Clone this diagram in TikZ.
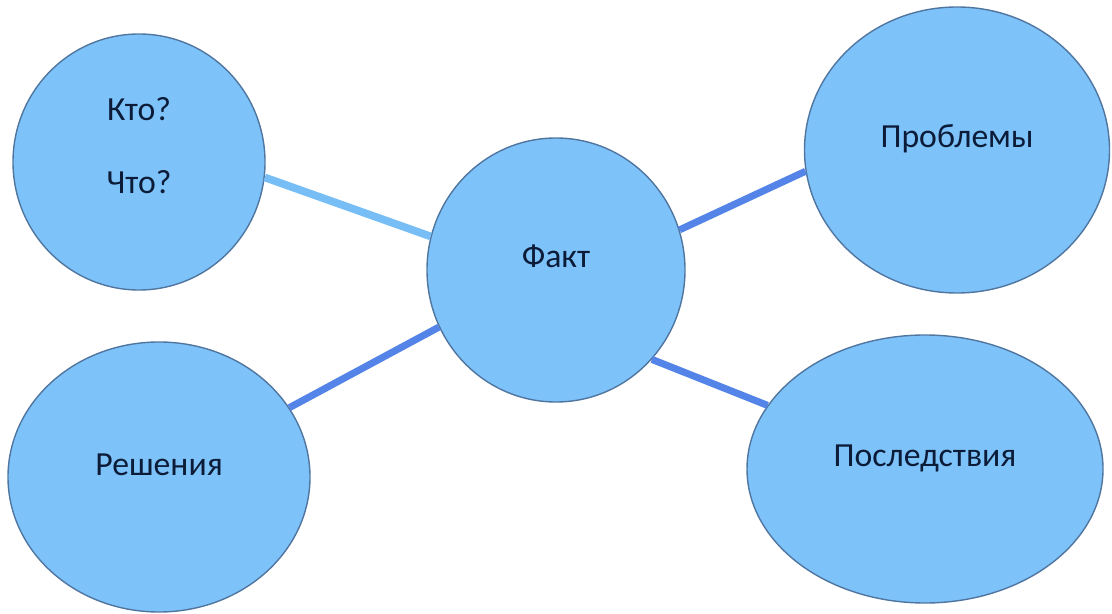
\documentclass[tikz,border=0pt]{standalone}
\usepackage{fontspec}
\setmainfont{Carlito}
\usepackage{tikz}
\usetikzlibrary{shapes.geometric}
\definecolor{mapfill}{RGB}{125,195,250}
\definecolor{mapedge}{RGB}{80,118,160}
\definecolor{maplight}{RGB}{118,190,245}
\definecolor{mapdark}{RGB}{85,132,232}
\definecolor{maptext}{RGB}{12,28,56}

\begin{document}
\begin{tikzpicture}[
  bubble/.style={ellipse,draw=mapedge,line width=1pt,fill=mapfill,inner sep=0pt,
    text=maptext,font=\fontsize{24}{29}\selectfont,text height=0.5cm,text depth=0.6cm},
  link/.style={draw=mapdark,line width=5pt},
  linklight/.style={draw=maplight,line width=5.5pt}
]
\useasboundingbox (0,0) rectangle (27.8,15.325);

% bubbles
\node[bubble,minimum width=6.45cm,minimum height=6.6cm] (fakt) at (13.9,8.575) {Факт};
\node[bubble,minimum width=6.3cm,minimum height=6.4cm,align=center,
  font=\fontsize{24}{52}\selectfont,text height=2.1cm,text depth=0.5cm] (kto) at (3.475,11.275) {Кто?\\Что?};
\node[bubble,minimum width=7.625cm,minimum height=7.15cm] (probl) at (23.925,11.575) {Проблемы};
\node[bubble,minimum width=7.55cm,minimum height=6.75cm] (resh) at (3.975,3.4) {Решения};
\node[bubble,minimum width=8.9cm,minimum height=6.7cm] (posl) at (23.125,3.6) {Последствия};

% links
\draw[linklight] (kto.-7) -- (fakt.165.7);
\draw[link] (resh.28.5) -- (fakt.206.4);
\draw[link] (fakt.18.7) -- (probl.188.1);
\draw[link] (fakt.-43.5) -- (posl.158.5);

\end{tikzpicture}
\end{document}
